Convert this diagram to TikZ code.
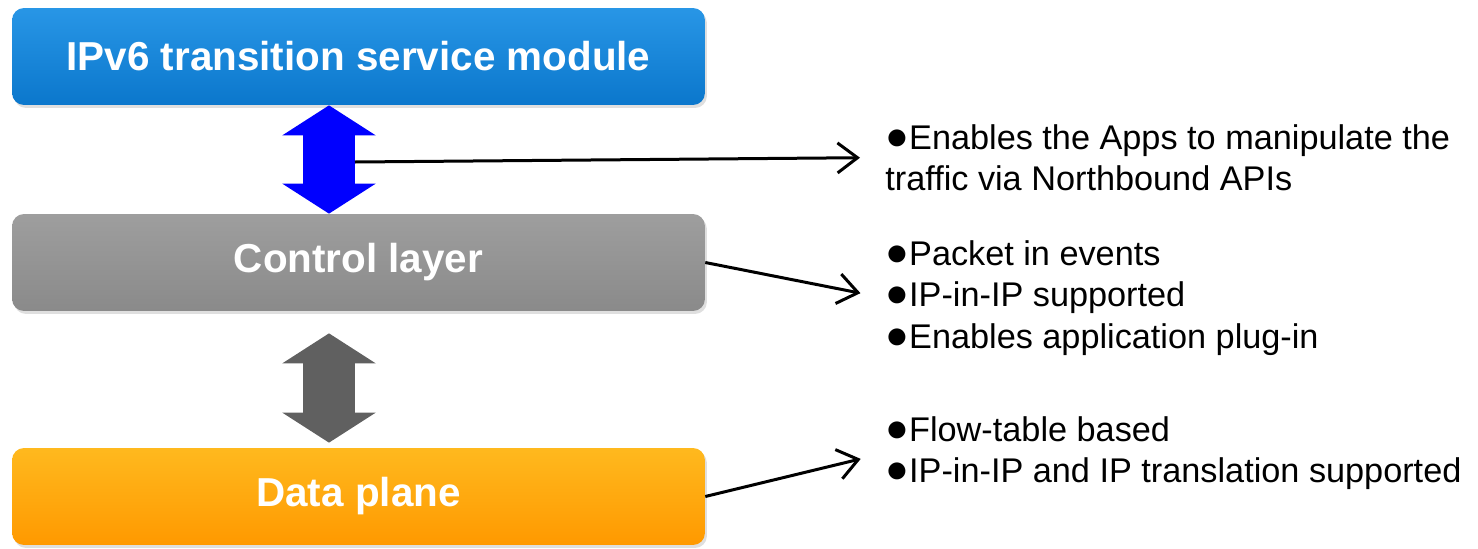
\documentclass[tikz,border=0pt]{standalone}
\usepackage{fontspec}
\setmainfont{Liberation Sans}
\usetikzlibrary{positioning, shapes, arrows.meta, calc, shadows}
\definecolor{myblue}{RGB}{11,119,204}
\definecolor{mybluetop}{RGB}{40,150,230}
\definecolor{mygray}{RGB}{138,138,138}
\definecolor{mygraytop}{RGB}{158,158,158}
\definecolor{myorange}{RGB}{255,153,0}
\definecolor{myorangetop}{RGB}{255,185,30}
\definecolor{arrowblue}{RGB}{0,0,255}
\definecolor{arrowgray}{RGB}{96,96,96}
\tikzset{
  layer/.style={draw=none, rounded corners=0.24cm, minimum width=13.86cm,
    minimum height=1.94cm, text=white, font=\fontsize{23}{27}\bfseries,
    drop shadow={shadow xshift=0.04cm, shadow yshift=-0.06cm, opacity=0.25}},
  note/.style={draw=none, inner sep=0, anchor=west, align=left,
    font=\fontsize{19.5}{23.5}\selectfont},
  updown/.style={line width=1.04cm,
    {Triangle[width=1.84cm,length=0.6cm]}-{Triangle[width=1.84cm,length=0.6cm]}},
  link/.style={line width=0.06cm, -{Straight Barb[width=0.6cm,length=0.4cm]},
    shorten >=0.5cm}
}
\newcommand{\bul}{\scalebox{1.15}{●}}

\begin{document}
\begin{tikzpicture}[x=0.02cm, y=-0.02cm]

\useasboundingbox (0,0) rectangle (1478,548);

% the three layers
\node [layer, top color=mybluetop, middle color=myblue, bottom color=myblue] (svc) at (358.5,56.5) {IPv6 transition service module};
\node [layer, top color=mygraytop, middle color=mygray, bottom color=mygray] (ctrl) at (358.5,262.5) {Control layer};
\node [layer, top color=myorangetop, middle color=myorange, bottom color=myorange] (data) at (358.5,496.5) {Data plane};

% double arrows between layers
\draw [updown, arrowblue] ([xshift=-0.59cm]svc.south) -- ([xshift=-0.59cm]ctrl.north);
\draw [updown, arrowgray, shorten <=0.44cm, shorten >=0.1cm] ([xshift=-0.59cm]ctrl.south) -- ([xshift=-0.59cm]data.north);

% notes
\node [note] (t1) at (885,157.5) {\bul Enables the Apps to manipulate the\\traffic via Northbound APIs};
\node [note] (t2) at (885,298) {\bul Packet in events\\\bul IP-in-IP supported\\\bul Enables application plug-in};
\node [note] (t3) at (885,453) {\bul Flow-table based\\\bul IP-in-IP and IP translation supported};

\coordinate (n1) at (355,162);
\draw [link] (n1) -- (t1.west);
\draw [link] (ctrl.east) -- (t2.west);
\draw [link] (data.east) -- (t3.west);

\end{tikzpicture}
\end{document}
